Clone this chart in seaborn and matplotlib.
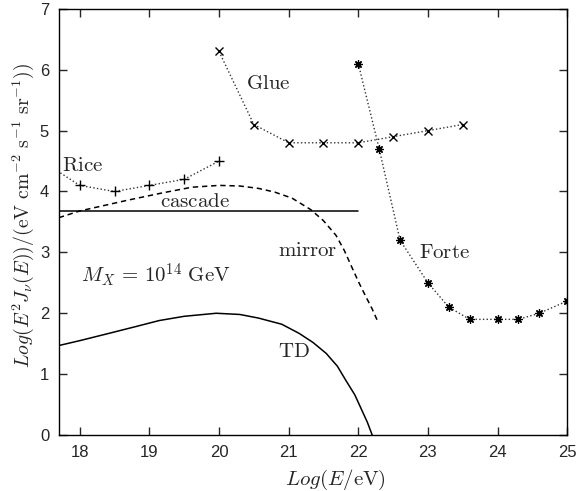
#!/usr/bin/env python3

import pandas as pd
import matplotlib
matplotlib.use('Agg')
import matplotlib.pyplot as plt
import seaborn as sns

# Rice limits (+)
rice_x = [17.5, 18.0, 18.5, 19.0, 19.5, 20.0]
rice_y = [4.47, 4.1, 4.0, 4.1, 4.2, 4.5]

# Glue limits (x)
glue_x = [20.0, 20.5, 21.0, 21.5, 22.0, 22.5, 23.0, 23.5]
glue_y = [6.3, 5.1, 4.8, 4.8, 4.8, 4.9, 5.0, 5.1]

# Forte limits (asterisk)
forte_x = [22.0, 22.3, 22.6, 23.0, 23.3, 23.6, 24.0, 24.3, 24.6, 25.0]
forte_y = [6.1, 4.7, 3.2, 2.5, 2.1, 1.9, 1.9, 1.9, 2.0, 2.2]

# cascade bound
cascade_x = [17.7, 22.0]
cascade_y = [3.68, 3.68]

# mirror model (dashed)
mirror_x = [17.7, 18.0, 18.7, 19.2, 19.61, 20.0, 20.3, 20.57, 20.8, 21.05, 21.32, 21.5, 21.68, 21.8, 21.91, 22.01, 22.11, 22.2, 22.27]
mirror_y = [3.57, 3.68, 3.86, 3.98, 4.07, 4.10, 4.09, 4.05, 3.99, 3.89, 3.70, 3.52, 3.28, 3.03, 2.75, 2.50, 2.27, 2.07, 1.89]

# TD model (solid)
td_x = [17.7, 18.0, 18.42, 18.8, 19.14, 19.5, 19.96, 20.3, 20.57, 20.9, 21.15, 21.35, 21.54, 21.7, 21.82, 21.95, 22.05, 22.13, 22.2]
td_y = [1.47, 1.55, 1.67, 1.78, 1.88, 1.95, 2.00, 1.98, 1.92, 1.82, 1.67, 1.52, 1.34, 1.13, 0.90, 0.66, 0.41, 0.21, 0.0]

sns.set_style('ticks')
plt.rcParams['font.family'] = ['Liberation Sans', 'DejaVu Sans']
plt.rcParams['mathtext.fontset'] = 'cm'

fig = plt.figure(figsize=(5.77, 4.91), dpi=100)
ax = fig.add_axes([0.102, 0.114, 0.881, 0.868])

dotted = dict(color='#333333', linestyle=':', linewidth=1.0, sort=False, ax=ax)
sns.lineplot(x=rice_x, y=rice_y, marker='+', markersize=7, markeredgewidth=1.0,
             markeredgecolor='black', **dotted)
sns.lineplot(x=glue_x, y=glue_y, marker='x', markersize=6, markeredgewidth=1.0,
             markeredgecolor='black', **dotted)
sns.lineplot(x=forte_x, y=forte_y, marker=(8, 2, 0), markersize=6, markeredgewidth=0.9,
             markeredgecolor='black', **dotted)

sns.lineplot(x=cascade_x, y=cascade_y, color='black', linewidth=1.1, sort=False, ax=ax)
sns.lineplot(x=mirror_x, y=mirror_y, color='black', linewidth=1.1, linestyle=(0, (3.5, 2.5)),
             sort=False, ax=ax)
sns.lineplot(x=td_x, y=td_y, color='black', linewidth=1.1, sort=False, ax=ax)

tfs = 15
ax.text(20.70, 5.78, r'$\mathrm{Glue}$', fontsize=tfs, ha='center', va='center')
ax.text(17.74, 4.42, r'$\mathrm{Rice}$', fontsize=tfs, ha='left', va='center')
ax.text(19.65, 3.83, r'$\mathrm{cascade}$', fontsize=tfs, ha='center', va='center')
ax.text(21.27, 3.03, r'$\mathrm{mirror}$', fontsize=tfs, ha='center', va='center')
ax.text(23.24, 3.0, r'$\mathrm{Forte}$', fontsize=tfs, ha='center', va='center')
ax.text(19.09, 2.63, r'$M_X\,=\,10^{14}\ \mathrm{GeV}$', fontsize=tfs, ha='center', va='center')
ax.text(21.08, 1.37, r'$\mathrm{TD}$', fontsize=tfs, ha='center', va='center')

ax.set_xlim(17.7, 25)
ax.set_ylim(0, 7)
ax.set_xticks(range(18, 26))
ax.set_yticks(range(0, 8))
ax.tick_params(direction='in', top=True, right=True, length=6, width=1,
               labelsize=12, pad=7)
for s in ax.spines.values():
    s.set_linewidth(1.0)
    s.set_color('black')

ax.set_xlabel(r'$Log(E/\mathrm{eV})$', fontsize=15)
ax.xaxis.set_label_coords(0.545, -0.076)
ax.set_ylabel(r'$Log(E^2J_\nu(E))/(\mathrm{eV\ cm^{-2}\ s^{-1}\ sr^{-1}}))$', fontsize=14.3)
ax.yaxis.set_label_coords(-0.045, 0.516)

fig.savefig('out.png', dpi=100)
